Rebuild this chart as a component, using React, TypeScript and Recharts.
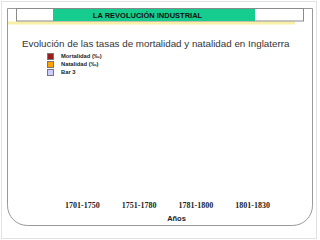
import { Bar, BarChart, Legend, XAxis, YAxis } from "recharts";

// periods on the x axis
const periods = ["1701-1750", "1751-1780", "1781-1800", "1801-1830"];
// the slide shows the axes and legend only, no bars are drawn yet
const mortalidad: (number | null)[] = [null, null, null, null];
const natalidad: (number | null)[] = [null, null, null, null];
const bar3: (number | null)[] = [null, null, null, null];
const seriesNames = ["Mortalidad (‰)", "Natalidad (‰)", "Bar 3"];

const data = periods.map((p, i) => ({
  periodo: p,
  mortalidad: mortalidad[i],
  natalidad: natalidad[i],
  bar3: bar3[i],
}));

const SANS = "'Liberation Sans', Arial, sans-serif";
const SERIF = "'Liberation Serif', 'Times New Roman', serif";

function LegendBox({ payload }: any) {
  const items = [...(payload ?? [])].sort(
    (a: any, b: any) => seriesNames.indexOf(a.value) - seriesNames.indexOf(b.value)
  );
  return (
    <div style={{ position: "absolute", left: 47, top: 52, fontFamily: SANS }}>
      {items.map((item: any) => (
        <div key={item.value} style={{ display: "flex", alignItems: "center", height: 8 }}>
          <span
            style={{
              width: 5,
              height: 5,
              background: item.color,
              border: "0.5px solid #777",
              display: "inline-block",
            }}
          />
          <span style={{ marginLeft: 7, fontSize: 5.8, fontWeight: 700, color: "#222", lineHeight: "8px" }}>
            {item.value}
          </span>
        </div>
      ))}
    </div>
  );
}

function Slide() {
  return (
    <svg width={320} height={240} style={{ position: "absolute", left: 0, top: 0 }}>
      <rect x={1.5} y={1.5} width={315} height={237} fill="#fff" stroke="#e2e2e2" />
      <line x1={7.5} y1={8.5} x2={312.5} y2={8.5} stroke="#999" />
      <line x1={7.5} y1={8.5} x2={7.5} y2={205.5} stroke="#999" />
      <line x1={312.5} y1={8.5} x2={312.5} y2={205.5} stroke="#999" />
      <path d="M7.5 205.5 A20 20 0 0 0 27.5 225.5 L292.5 225.5 A20 20 0 0 0 312.5 205.5" fill="none" stroke="#999" />
      <rect x={8} y={21.5} width={287} height={3} fill="#f8f0a4" />
      <rect x={16.5} y={8.5} width={287} height={12.5} fill="#fff" stroke="#8a8a8a" />
      <rect x={53} y={9} width={202} height={12} fill="#16cc8e" />
      <text x={147.5} y={17.6} textAnchor="middle" fontFamily={SANS} fontWeight={700} fontSize={7.5} fill="#111">
        LA REVOLUCIÓN INDUSTRIAL
      </text>
      <text x={22} y={46.5} fontFamily={SANS} fontSize={9.8} fill="#333">
        Evolución de las tasas de mortalidad y natalidad en Inglaterra
      </text>
    </svg>
  );
}

export default function App() {
  return (
    <div style={{ position: "absolute", left: 0, top: 0, width: 320, height: 240 }}>
      <Slide />
      <div style={{ position: "absolute", left: 0, top: 0 }}>
        <BarChart width={320} height={240} data={data} margin={{ top: 80, right: 39, left: 54, bottom: 12 }}>
          <XAxis
            dataKey="periodo"
            axisLine={false}
            tickLine={false}
            tickSize={0}
            tickMargin={4}
            height={30}
            tick={{ fontFamily: SERIF, fontWeight: 700, fontSize: 8, fill: "#222" }}
            label={{
              value: "Años",
              position: "insideBottom",
              offset: 7,
              dx: 9,
              style: { fontFamily: SANS, fontWeight: 700, fontSize: 7.5, fill: "#222" },
            }}
          />
          <YAxis hide domain={[0, 40]} />
          <Legend verticalAlign="top" wrapperStyle={{ left: 0, top: 0, width: 320 }} content={<LegendBox />} />
          <Bar dataKey="mortalidad" name={seriesNames[0]} fill="#9c1c1c" isAnimationActive={false} />
          <Bar dataKey="natalidad" name={seriesNames[1]} fill="#ffa200" isAnimationActive={false} />
          <Bar dataKey="bar3" name={seriesNames[2]} fill="#ccccff" isAnimationActive={false} />
        </BarChart>
      </div>
    </div>
  );
}
